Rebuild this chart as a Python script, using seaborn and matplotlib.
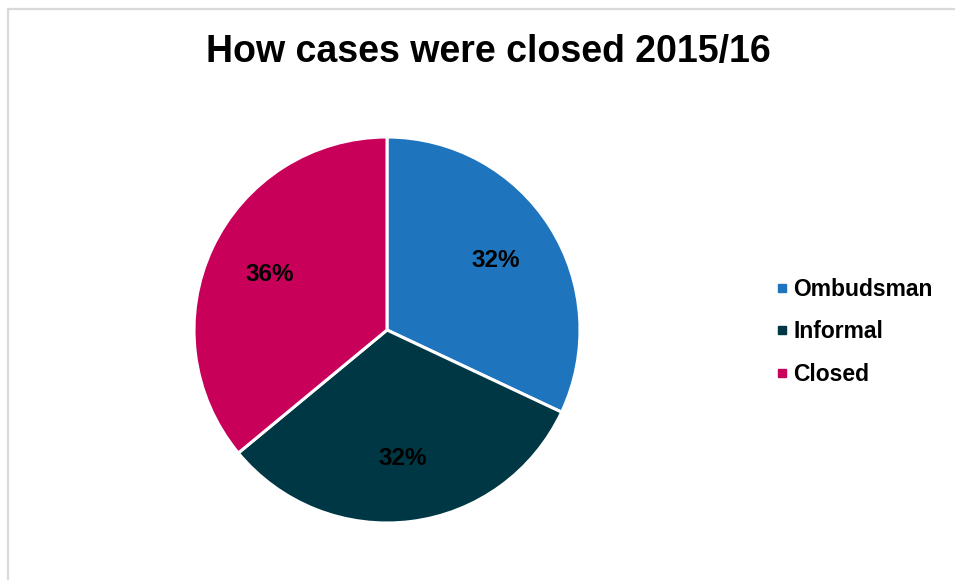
import matplotlib
matplotlib.use("Agg")
import matplotlib.pyplot as plt
from matplotlib.lines import Line2D
import seaborn as sns

categories = ["Ombudsman", "Informal", "Closed"]
shares = [32, 32, 36]
colors = ["#1f75bd", "#003745", "#c8005a"]
title = "How cases were closed 2015/16"

sns.set_theme(style="white")
plt.rcParams["font.family"] = ["Liberation Sans", "DejaVu Sans"]
plt.rcParams["font.weight"] = "bold"

W, H = 955, 580
fig = plt.figure(figsize=(W / 100, H / 100), dpi=100)
fig.patch.set_facecolor("white")

# light grey frame (top and left edges visible)
fig.add_artist(Line2D([8 / W, 8 / W], [0, 1 - 9 / H], color="#d9d9d9", lw=1.6,
                      transform=fig.transFigure))
fig.add_artist(Line2D([8 / W, 1], [1 - 9 / H, 1 - 9 / H], color="#d9d9d9", lw=1.6,
                      transform=fig.transFigure))

cx, cy, r = 387, 330, 193
ax = fig.add_axes([(cx - r) / W, (H - cy - r) / H, 2 * r / W, 2 * r / H])
wedges, texts, autotexts = ax.pie(
    shares, colors=colors, startangle=90, counterclock=False,
    autopct=lambda p: f"{p:.0f}%", pctdistance=0.67,
    wedgeprops=dict(edgecolor="white", linewidth=2.2),
    textprops=dict(fontsize=17.5, fontweight="bold", color="black"),
)
ax.set_aspect("equal")
ax.set_xlim(-1, 1)
ax.set_ylim(-1, 1)
ax.axis("off")

fig.text(488 / W, 1 - 52 / H, title, ha="center", va="center",
         fontsize=27, fontweight="bold", color="black")

handles = [Line2D([], [], marker="s", linestyle="none", markersize=6,
                  markerfacecolor=c, markeredgecolor=c) for c in colors]
fig.legend(handles, categories, loc="upper left",
           bbox_to_anchor=(750 / W, 1 - 257 / H), frameon=False,
           prop=dict(size=16.5, weight="bold"), labelcolor="black",
           handletextpad=0.0, labelspacing=0.85, handlelength=1.0)

fig.savefig("out.png", dpi=100, facecolor="white")
